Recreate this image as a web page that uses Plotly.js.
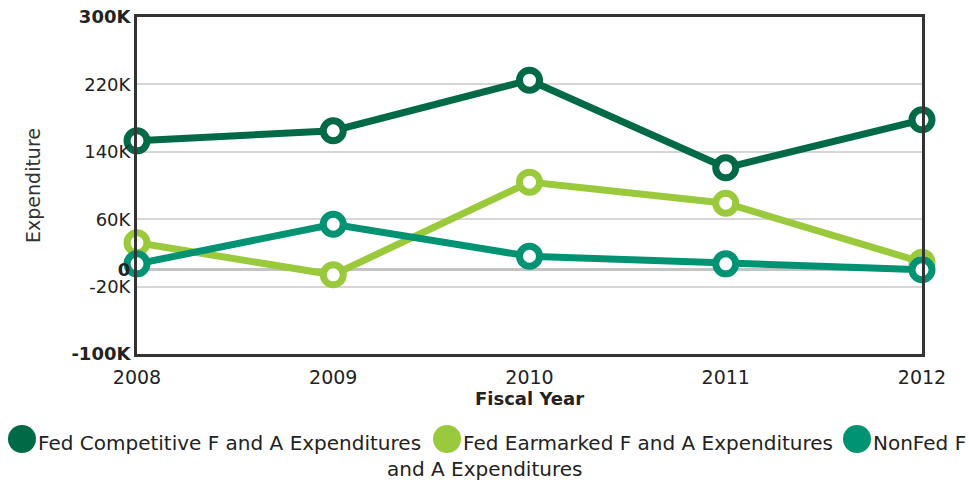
<!DOCTYPE html>
<html>
<head>
<meta charset="utf-8">
<script src="https://cdn.plot.ly/plotly-3.0.1.min.js"></script>
<style>
  html, body { margin: 0; padding: 0; background: #fff; }
  #plot { width: 969px; height: 483px; }
</style>
</head>
<body>
<div id="plot"></div>
<script>
// data
var years = [2008, 2009, 2010, 2011, 2012];
var fedCompetitive = [153000, 165000, 225000, 121000, 178000];
var fedEarmarked = [32000, -6000, 104000, 79000, 9000];
var nonFed = [7000, 54000, 16000, 7000, 0];

var seriesNames = ["Fed Competitive F and A Expenditures", "Fed Earmarked F and A Expenditures", "NonFed F and A Expenditures"];
var seriesColors = ["#006a47", "#9aca3c", "#009373"];

var yTickVals = [-100000, -20000, 0, 60000, 140000, 220000, 300000];
var yTickText = ["<b>-100K</b>", "-20K", "<b>0</b>", "60K", "140K", "220K", "<b>300K</b>"];

function makeTrace(values, i) {
    return {
        x: years,
        y: values,
        name: seriesNames[i],
        type: "scatter",
        mode: "lines+markers",
        cliponaxis: false,
        line: { color: seriesColors[i], width: 7 },
        marker: { size: 20, color: "#ffffff", line: { color: seriesColors[i], width: 7 } }
    };
}

var data = [makeTrace(fedCompetitive, 0), makeTrace(fedEarmarked, 1), makeTrace(nonFed, 2)];

// plot area in pixels: left 137, right 922, top 17, bottom 354
function px(x) { return (x - 137) / 785; }
function py(y) { return (354 - y) / 337; }

var legendFont = { family: "DejaVu Sans", size: 20, color: "#222" };

// legend drawn by hand so the last entry wraps like the original
var legendSpots = [[22, 36], [447, 461], [857, 871]];
var legendLabels = [seriesNames[0], seriesNames[1], "NonFed F"];
var shapes = [];
var annotations = [];
legendSpots.forEach(function (s, i) {
    shapes.push({
        type: "circle", xref: "paper", yref: "paper",
        xsizemode: "pixel", ysizemode: "pixel",
        xanchor: px(s[0]), yanchor: py(439),
        x0: -14, x1: 14, y0: -14, y1: 14,
        fillcolor: seriesColors[i], line: { width: 0 }
    });
    annotations.push({
        xref: "paper", yref: "paper", x: px(s[1]), y: py(443),
        xanchor: "left", yanchor: "middle", showarrow: false,
        text: legendLabels[i], font: legendFont
    });
});
annotations.push({
    xref: "paper", yref: "paper", x: px(484), y: py(469),
    xanchor: "center", yanchor: "middle", showarrow: false,
    text: "and A Expenditures", font: legendFont
});

var layout = {
    width: 969,
    height: 483,
    margin: { l: 137, r: 47, t: 17, b: 129 },
    paper_bgcolor: "#ffffff",
    plot_bgcolor: "#ffffff",
    showlegend: false,
    font: { family: "DejaVu Sans", color: "#222" },
    xaxis: {
        range: [2008, 2012],
        tickvals: years,
        ticktext: years.map(String),
        tickfont: { size: 19, color: "#222" },
        ticklabelstandoff: 4,
        showgrid: false,
        zeroline: false,
        showline: true,
        mirror: true,
        linecolor: "#333",
        linewidth: 3,
        title: { text: "<b>Fiscal Year</b>", font: { size: 18, color: "#222" }, standoff: 4 }
    },
    yaxis: {
        range: [-100000, 300000],
        tickvals: yTickVals,
        ticktext: yTickText,
        tickfont: { size: 18, color: "#222" },
        gridcolor: "#d6d6d6",
        gridwidth: 2,
        zeroline: true,
        zerolinecolor: "#c4c4c4",
        zerolinewidth: 3,
        showline: true,
        mirror: true,
        linecolor: "#333",
        linewidth: 3,
        title: { text: "Expenditure", font: { size: 19, color: "#333" }, standoff: 26 }
    },
    shapes: shapes,
    annotations: annotations
};

Plotly.newPlot("plot", data, layout, { displayModeBar: false });
</script>
</body>
</html>
